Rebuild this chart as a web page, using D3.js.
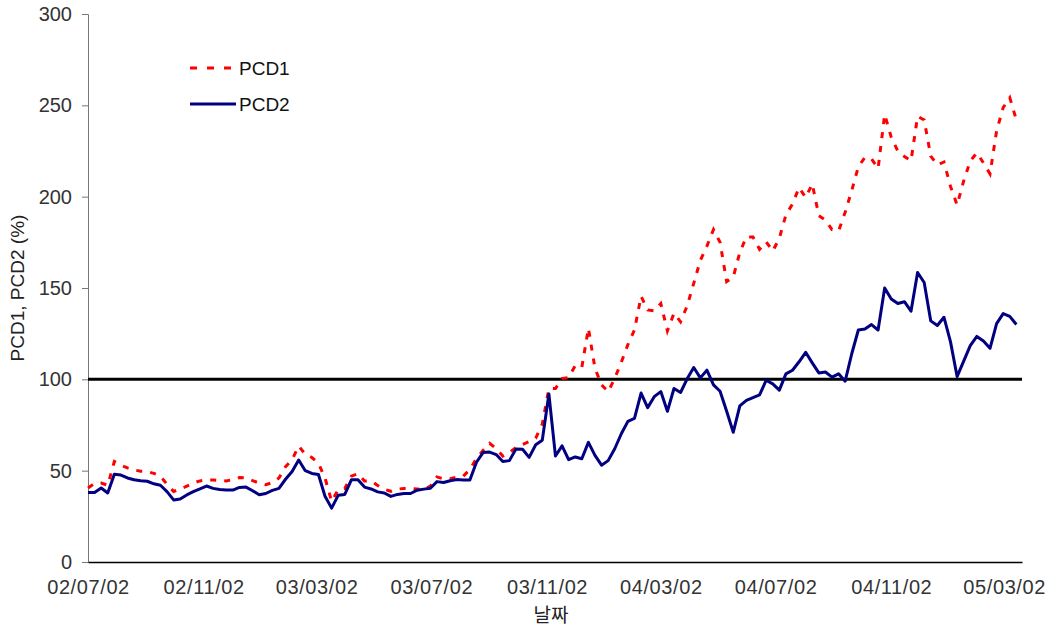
<!DOCTYPE html>
<html>
<head>
<meta charset="utf-8">
<script src="https://cdn.jsdelivr.net/npm/d3@7"></script>
<style>
    body { margin: 0; background: #fff; }
    svg { display: block; font-family: "Liberation Sans", Arial, sans-serif; }
</style>
</head>
<body>
<div id="chart"></div>
<script>
// Weekly observation dates (yy/mm/dd)
const dates = [
    '02/07/02','02/07/09','02/07/16','02/07/23','02/07/30','02/08/06','02/08/13','02/08/20','02/08/27',
    '02/09/03','02/09/10','02/09/17','02/09/24','02/10/01','02/10/08','02/10/15','02/10/22','02/10/29',
    '02/11/05','02/11/12','02/11/19','02/11/26','02/12/03','02/12/10','02/12/17','02/12/24','02/12/31',
    '03/01/07','03/01/14','03/01/21','03/01/28','03/02/04','03/02/11','03/02/18','03/02/25',
    '03/03/04','03/03/11','03/03/18','03/03/25','03/04/01','03/04/08','03/04/15','03/04/22','03/04/29',
    '03/05/06','03/05/13','03/05/20','03/05/27','03/06/03','03/06/10','03/06/17','03/06/24',
    '03/07/01','03/07/08','03/07/15','03/07/22','03/07/29','03/08/05','03/08/12','03/08/19','03/08/26',
    '03/09/02','03/09/09','03/09/16','03/09/23','03/09/30','03/10/07','03/10/14','03/10/21','03/10/28',
    '03/11/04','03/11/11','03/11/18','03/11/25','03/12/02','03/12/09','03/12/16','03/12/23','03/12/30',
    '04/01/06','04/01/13','04/01/20','04/01/27','04/02/03','04/02/10','04/02/17','04/02/24',
    '04/03/02','04/03/09','04/03/16','04/03/23','04/03/30','04/04/06','04/04/13','04/04/20','04/04/27',
    '04/05/04','04/05/11','04/05/18','04/05/25','04/06/01','04/06/08','04/06/15','04/06/22','04/06/29',
    '04/07/06','04/07/13','04/07/20','04/07/27','04/08/03','04/08/10','04/08/17','04/08/24','04/08/31',
    '04/09/07','04/09/14','04/09/21','04/09/28','04/10/05','04/10/12','04/10/19','04/10/26',
    '04/11/02','04/11/09','04/11/16','04/11/23','04/11/30','04/12/07','04/12/14','04/12/21','04/12/28',
    '05/01/04','05/01/11','05/01/18','05/01/25','05/02/01','05/02/08','05/02/15','05/02/22',
    '05/03/01','05/03/08','05/03/15'
];

const pcd1 = [
    40.5, 43, 43.2, 42, 55, 53, 51.5, 50.4, 49.7,
    49.5, 48.5, 47, 42.5, 38.6, 40, 41.5, 43.2, 44.4,
    44.9, 44.9, 44.6, 44.4, 45.1, 46.2, 46, 44.5, 43.2,
    42.3, 43.5, 46, 52.2, 56, 63.5, 59, 57.2,
    54, 46, 33.2, 39.5, 40.3, 47, 48.3, 44.3, 44.4,
    41.9, 39.8, 38.7, 39.9, 40.3, 40.3, 40, 39.6,
    41.5, 46.6, 45.5, 45.6, 46.4, 47, 50.7, 56.6, 61.1,
    65, 62, 58, 60, 62.6, 64.3, 65.9, 67.8, 75.5,
    95, 95, 100.4, 101, 107.5, 106.5, 128, 106, 97,
    93.2, 100.5, 109.4, 119, 127, 145.5, 138, 137.5,
    141.5, 126.5, 136.2, 131.5, 140.2, 152.5, 165.1, 172.9, 182,
    175, 153.5, 156, 169.5, 178, 177.9, 171.2, 175.3, 170.2,
    177.2, 190, 196, 205, 199.5, 207, 189.6, 187.2, 182,
    181.2, 191.5, 203.4, 216.4, 221.5, 220.7, 215.4, 245,
    232.5, 224.9, 222, 219.7, 244, 242, 222.2, 217.4, 219,
    205.6, 195.4, 208.6, 219.5, 224, 218.5, 212.5, 236,
    248.8, 254.2, 242
];

const pcd2 = [
    38, 38, 40.5, 37.8, 48, 47.6, 46, 45, 44.5,
    44.2, 42.8, 42, 38.5, 34, 34.5, 36.7, 38.5, 40,
    41.6, 40.3, 39.7, 39.4, 39.4, 40.8, 41, 39, 36.8,
    37.5, 39.2, 40.3, 45.3, 49.5, 55.8, 50, 48.5,
    47.9, 36, 29.5, 36.5, 37, 45, 45, 41, 40,
    38.4, 37.8, 35.9, 37, 37.5, 37.5, 39.3, 39.9,
    40.4, 44, 43.5, 44.5, 45.1, 44.9, 44.9, 54.6, 59.9,
    60.2, 58.8, 55, 55.5, 61.9, 61.7, 57.3, 64.2, 66.7,
    92, 58, 63.6, 56, 57.5, 56.5, 65.5, 58.4, 53,
    55.5, 62, 70.2, 77, 78.6, 92.5, 84.5, 90.5,
    93.3, 82.5, 95, 92.8, 100.3, 106.5, 100.8, 105, 97,
    93.5, 82.5, 71, 85.5, 88.5, 90, 91.5, 99.5, 97.5,
    94.1, 103, 105, 109.6, 114.8, 109, 103.5, 104, 101.2,
    103, 99, 114, 127, 127.5, 130, 127, 150,
    144, 141.5, 142.5, 137.3, 158.5, 153, 132, 129.5, 134,
    120.5, 101.5, 110, 118.5, 123.5, 121, 117, 130.5,
    136, 134.5, 130
];

const tickDates = ['02/07/02', '02/11/02', '03/03/02', '03/07/02', '03/11/02',
                   '04/03/02', '04/07/02', '04/11/02', '05/03/02'];
const yTicks = [0, 50, 100, 150, 200, 250, 300];
const refLevel = 100;
const seriesNames = ['PCD1', 'PCD2'];

const width = 1052;
const height = 629;
const margin = { top: 14, right: 30, bottom: 67, left: 88 };

const parse = d3.timeParse('%y/%m/%d');
const fmt = d3.timeFormat('%y/%m/%d');

const svg = d3.select('#chart')
    .append('svg')
    .attr('width', width)
    .attr('height', height);

// x runs a little past the last label, like the original
const x = d3.scaleTime()
    .domain([parse('02/07/02'), parse('05/03/21')])
    .range([margin.left, width - margin.right]);

const y = d3.scaleLinear()
    .domain([0, 300])
    .range([height - margin.bottom, margin.top]);

// y axis
const yAxis = svg.append('g')
    .attr('transform', `translate(${margin.left},0)`)
    .call(d3.axisLeft(y).tickValues(yTicks).tickSize(6).tickPadding(10));
yAxis.select('.domain').attr('stroke', '#777');
yAxis.selectAll('.tick line').attr('stroke', '#777');
yAxis.selectAll('text')
    .style('font-size', '20px')
    .attr('fill', '#333');

// x axis
const xAxis = svg.append('g')
    .attr('transform', `translate(0,${height - margin.bottom})`)
    .call(d3.axisBottom(x)
        .tickValues(tickDates.map(parse))
        .tickFormat(fmt)
        .tickSize(0)
        .tickPadding(18)
        .tickSizeOuter(0));
xAxis.select('.domain').attr('stroke', '#000').attr('stroke-width', 1.5);
xAxis.selectAll('text')
    .style('font-size', '20px')
    .style('letter-spacing', '0.6px')
    .attr('fill', '#333');

// axis titles
svg.append('text')
    .attr('transform', `translate(24,${(margin.top + height - margin.bottom) / 2}) rotate(-90)`)
    .attr('text-anchor', 'middle')
    .style('font-size', '19px')
    .attr('fill', '#222')
    .text('PCD1, PCD2 (%)');

svg.append('text')
    .attr('x', 551)
    .attr('y', 622)
    .attr('text-anchor', 'middle')
    .style('font-family', '"Noto Sans CJK KR", sans-serif')
    .style('font-size', '19px')
    .attr('fill', '#222')
    .text('날짜');

// reference line at 100
svg.append('line')
    .attr('x1', x.range()[0])
    .attr('x2', x.range()[1])
    .attr('y1', y(refLevel))
    .attr('y2', y(refLevel))
    .attr('stroke', '#000')
    .attr('stroke-width', 3);

const xs = dates.map(parse);

const line = values => d3.line()
    .x((d, i) => x(xs[i]))
    .y(d => y(d))(values);

svg.append('path')
    .attr('d', line(pcd1))
    .attr('fill', 'none')
    .attr('stroke', '#ff0000')
    .attr('stroke-width', 3)
    .attr('stroke-dasharray', '6,8');

svg.append('path')
    .attr('d', line(pcd2))
    .attr('fill', 'none')
    .attr('stroke', '#000080')
    .attr('stroke-width', 3)
    .attr('stroke-linejoin', 'round');

// legend
const legend = svg.append('g').attr('transform', 'translate(190,68)');
legend.append('line')
    .attr('x1', 0).attr('x2', 44).attr('y1', 0).attr('y2', 0)
    .attr('stroke', '#ff0000').attr('stroke-width', 3)
    .attr('stroke-dasharray', '7,10');
legend.append('line')
    .attr('x1', 0).attr('x2', 46).attr('y1', 36).attr('y2', 36)
    .attr('stroke', '#000080').attr('stroke-width', 3);
legend.selectAll('text.lbl')
    .data(seriesNames)
    .join('text')
    .attr('class', 'lbl')
    .attr('x', 49)
    .attr('y', (d, i) => i * 36)
    .attr('dy', '0.35em')
    .style('font-size', '19px')
    .attr('fill', '#111')
    .text(d => d);
</script>
</body>
</html>
